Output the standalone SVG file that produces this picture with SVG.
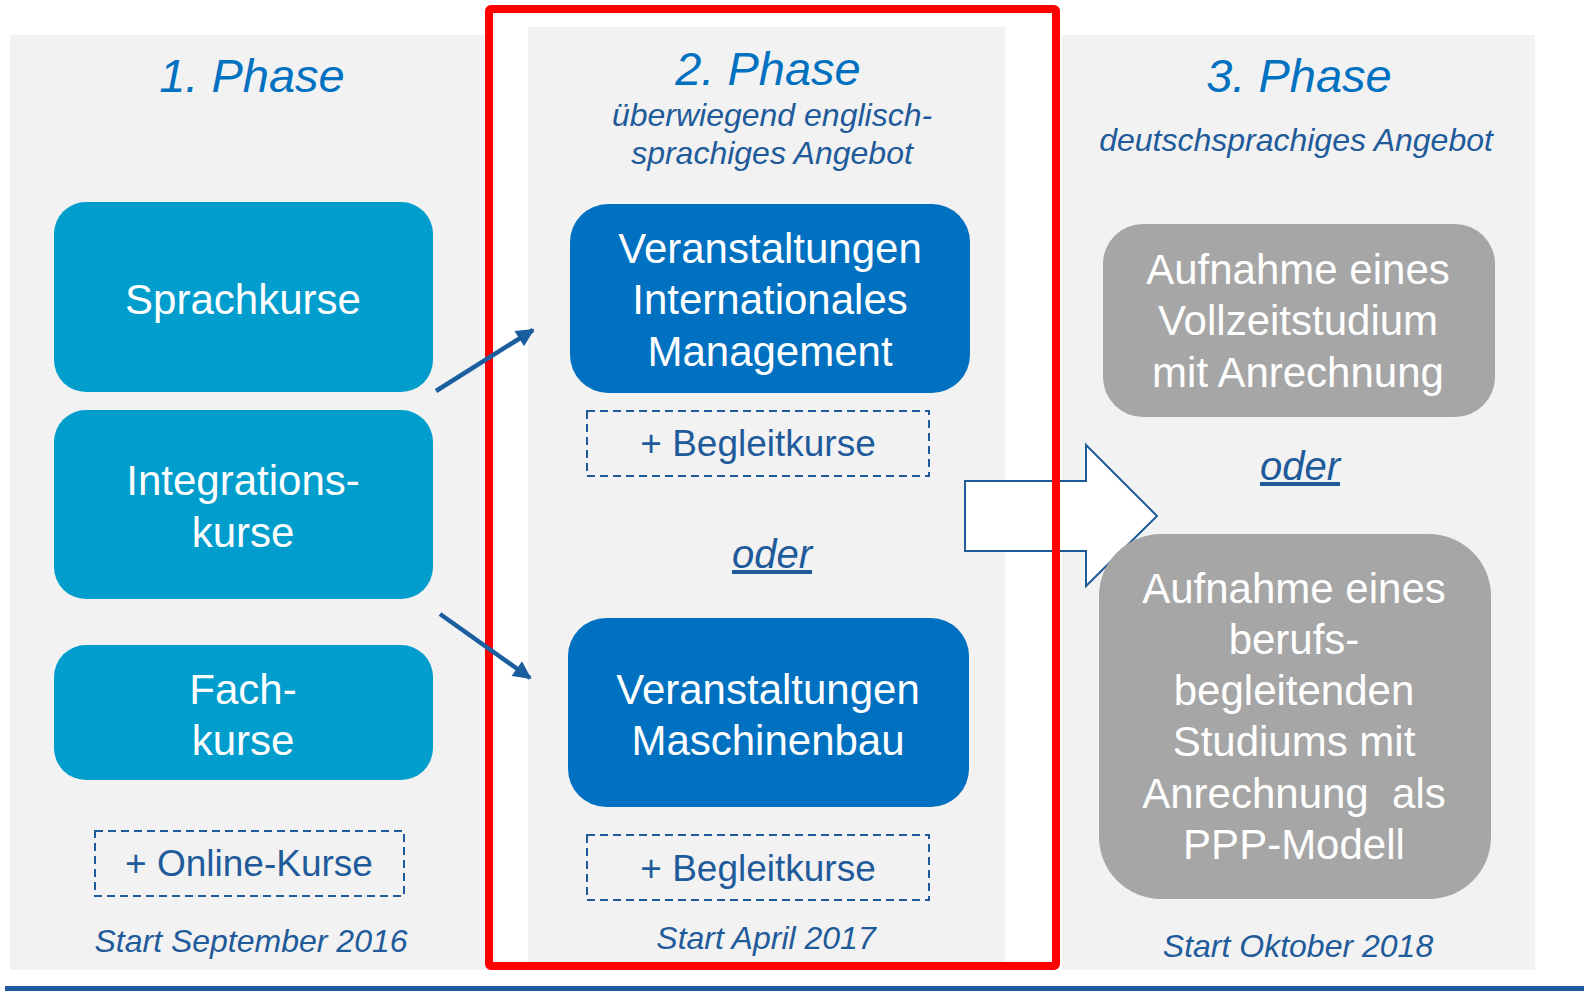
<svg xmlns="http://www.w3.org/2000/svg" width="1584" height="993" viewBox="0 0 1584 993">
  <style>
    .panel { fill: #F2F2F2; }
    .title { font-family: "Liberation Sans", Arial, sans-serif; font-style: italic; font-size: 47px; fill: #0070C0; text-anchor: middle; }
    .sub { font-family: "Liberation Sans", Arial, sans-serif; font-style: italic; font-size: 32px; fill: #1F5B9A; text-anchor: middle; }
    .oder { font-family: "Liberation Sans", Arial, sans-serif; font-style: italic; font-size: 40px; fill: #1F5B9A; text-anchor: middle; text-decoration: underline; }
    .node-text { font-family: "Liberation Sans", Arial, sans-serif; font-size: 42px; fill: #FFFFFF; text-anchor: middle; }
    .extra-text { font-family: "Liberation Sans", Arial, sans-serif; font-size: 37px; fill: #1F5B9A; text-anchor: middle; }
    .light { fill: #009DCD; }
    .dark { fill: #0070C0; }
    .grey { fill: #A6A6A6; }
    .dashed { fill: none; stroke: #1F5B9A; stroke-width: 2; stroke-dasharray: 8 5; }
    .conn { stroke: #1B5E9F; stroke-width: 4.5; fill: none; marker-end: url(#head); }
  </style>
  <defs>
    <marker id="head" viewBox="0 0 10 10" refX="9" refY="5" markerWidth="5" markerHeight="4" markerUnits="strokeWidth" orient="auto">
      <path d="M0,0 L10,5 L0,10 z" fill="#1B5E9F"/>
    </marker>
  </defs>

  <rect width="1584" height="993" fill="#FFFFFF"/>

  <!-- phase backgrounds -->
  <g id="phase1">
    <rect class="panel" x="10" y="35" width="480" height="935"/>
    <text class="title" x="252" y="92">1. Phase</text>
    <text class="sub" x="251" y="952">Start September 2016</text>
  </g>
  <g id="phase2">
    <rect class="panel" x="528" y="27" width="477" height="937"/>
    <text class="title" x="768" y="85">2. Phase</text>
    <text class="sub" x="772" y="126">überwiegend englisch-</text>
    <text class="sub" x="772" y="164">sprachiges Angebot</text>
    <text class="oder" x="772" y="568">oder</text>
    <text class="sub" x="766" y="949">Start April 2017</text>
  </g>
  <g id="phase3">
    <rect class="panel" x="1062" y="35" width="473" height="935"/>
    <text class="title" x="1299" y="92">3. Phase</text>
    <text class="sub" x="1296" y="151">deutschsprachiges Angebot</text>
    <text class="oder" x="1300" y="480">oder</text>
    <text class="sub" x="1298" y="957">Start Oktober 2018</text>
  </g>

  <!-- transition arrow into phase 3 -->
  <g id="transition">
    <path d="M965,481 L1086,481 L1086,445 L1157,516 L1086,586 L1086,551 L965,551 Z" fill="#FFFFFF" stroke="#1F5B9A" stroke-width="2" stroke-linejoin="miter"/>
  </g>

  <!-- phase 1 nodes -->
  <g id="sprachkurse">
    <rect class="light" x="54" y="202" width="379" height="190" rx="32"/>
    <text class="node-text" x="243" y="314">Sprachkurse</text>
  </g>
  <g id="integrationskurse">
    <rect class="light" x="54" y="410" width="379" height="189" rx="32"/>
    <text class="node-text" x="243" y="495">Integrations-</text>
    <text class="node-text" x="243" y="547">kurse</text>
  </g>
  <g id="fachkurse">
    <rect class="light" x="54" y="645" width="379" height="135" rx="32"/>
    <text class="node-text" x="243" y="704">Fach-</text>
    <text class="node-text" x="243" y="755">kurse</text>
  </g>
  <g id="online-kurse">
    <rect class="dashed" x="95" y="831" width="309" height="65"/>
    <text class="extra-text" x="249" y="876">+ Online-Kurse</text>
  </g>

  <!-- phase 2 nodes -->
  <g id="internationales-management">
    <rect class="dark" x="570" y="204" width="400" height="189" rx="38"/>
    <text class="node-text" x="770" y="263">Veranstaltungen</text>
    <text class="node-text" x="770" y="314">Internationales</text>
    <text class="node-text" x="770" y="366">Management</text>
  </g>
  <g id="begleitkurse-1">
    <rect class="dashed" x="587" y="411" width="342" height="65"/>
    <text class="extra-text" x="758" y="456">+ Begleitkurse</text>
  </g>
  <g id="maschinenbau">
    <rect class="dark" x="568" y="618" width="401" height="189" rx="38"/>
    <text class="node-text" x="768" y="704">Veranstaltungen</text>
    <text class="node-text" x="768" y="755">Maschinenbau</text>
  </g>
  <g id="begleitkurse-2">
    <rect class="dashed" x="587" y="835" width="342" height="65"/>
    <text class="extra-text" x="758" y="881">+ Begleitkurse</text>
  </g>

  <!-- phase 3 nodes -->
  <g id="vollzeitstudium">
    <rect class="grey" x="1103" y="224" width="392" height="193" rx="40"/>
    <text class="node-text" x="1298" y="284">Aufnahme eines</text>
    <text class="node-text" x="1298" y="335">Vollzeitstudium</text>
    <text class="node-text" x="1298" y="387">mit Anrechnung</text>
  </g>
  <g id="berufsbegleitend">
    <rect class="grey" x="1099" y="534" width="392" height="365" rx="62"/>
    <text class="node-text" x="1294" y="603">Aufnahme eines</text>
    <text class="node-text" x="1294" y="654">berufs-</text>
    <text class="node-text" x="1294" y="705">begleitenden</text>
    <text class="node-text" x="1294" y="756">Studiums mit</text>
    <text class="node-text" x="1294" y="808" xml:space="preserve">Anrechnung  als</text>
    <text class="node-text" x="1294" y="859">PPP-Modell</text>
  </g>

  <!-- highlight frame around phase 2 -->
  <g id="highlight">
    <rect x="489" y="9" width="567" height="957" fill="none" stroke="#FF0000" stroke-width="8" rx="2"/>
  </g>

  <!-- connectors from phase 1 to phase 2 -->
  <g id="connectors">
    <line class="conn" x1="436" y1="391" x2="533" y2="330"/>
    <line class="conn" x1="440" y1="614" x2="530" y2="678"/>
  </g>

  <!-- footer rule -->
  <rect x="5" y="986" width="1579" height="5" fill="#1F5B9A"/>
</svg>
